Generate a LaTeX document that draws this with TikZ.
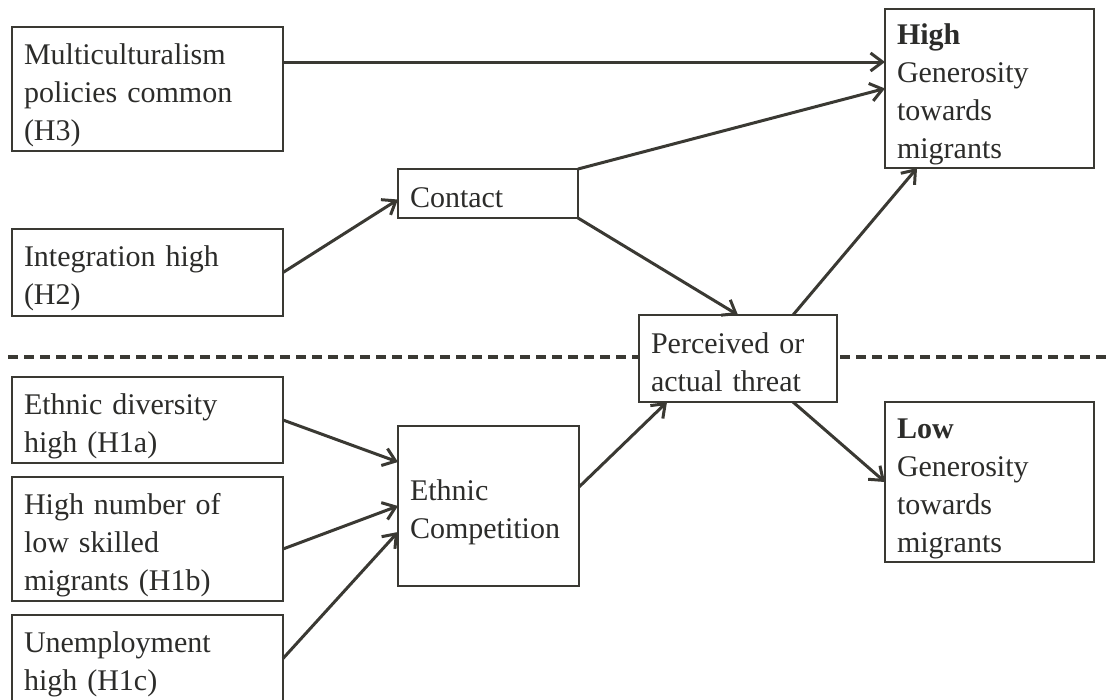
\documentclass[tikz,border=0pt]{standalone}
\usepackage{fontspec}
\setmainfont{Liberation Serif}
\usetikzlibrary{arrows.meta}
\definecolor{ink}{HTML}{3A3933}
\definecolor{txt}{HTML}{2C2C2A}

\begin{document}
\begin{tikzpicture}[x=1pt,y=-1pt,
	box/.style={rectangle, draw=ink, line width=1.7pt, fill=white, align=left,
		inner xsep=12pt, inner ysep=0pt, outer sep=0pt, text=txt,
		font=\fontsize{30}{38}\selectfont,
		execute at begin node={\rule{0pt}{33pt}}, execute at end node={\rule[-6pt]{0pt}{0pt}}},
	arr/.style={draw=ink, line width=3pt, -{Straight Barb[length=12pt,width=18pt]}}]

	\useasboundingbox (0,0) rectangle (1107,699);

	\coordinate (sepL) at (8,357);
	\coordinate (sepR) at (1107,357);
	\draw[ink, line width=3.2pt, dash pattern=on 10pt off 6pt] (sepL) -- (sepR);

	\node (multi) [box, text width=247pt, minimum height=124pt] at (147.5, 89) {Multiculturalism\\policies common\\(H3)};
	\node (integ) [box, text width=247pt, minimum height=87pt] at (147.5, 272.5) {Integration high\\(H2)};
	\node (contact) [box, text width=156pt, minimum height=49pt] at (488, 193.5) {Contact};
	\node (threat) [box, text width=174pt, minimum height=87pt] at (738, 358.5) {Perceived or\\actual threat};
	\node (high) [box, text width=185pt, minimum height=159pt] at (989.5, 88.5) {\textbf{High}\\Generosity\\towards\\migrants};
	\node (low) [box, text width=185pt, minimum height=160pt] at (989.5, 482) {\textbf{Low}\\Generosity\\towards\\migrants};
	\node (divers) [box, text width=247pt, minimum height=86pt] at (147.5, 420) {Ethnic diversity\\high (H1a)};
	\node (lowskill) [box, text width=247pt, minimum height=124pt] at (147.5, 539) {High number of\\low skilled\\migrants (H1b)};
	\node (unemp) [box, text width=247pt, minimum height=87pt] at (147.5, 658.5) {Unemployment\\high (H1c)};
	\node (comp) [box, text width=157pt, minimum height=160pt] at (488.5, 506) {Ethnic\\Competition};

	\coordinate (m1) at ([yshift=27pt]multi.east);

	\path
	(m1) edge[arr] (m1 -| high.west)
	(contact.north east) edge[arr] (high.west)
	(integ.east) edge[arr] ([yshift=-6pt]contact.west)
	(contact.south east) edge[arr] (threat.north)
	([xshift=-44pt]threat.north east) edge[arr] ([xshift=32pt]high.south west)
	([xshift=-44pt]threat.south east) edge[arr] (low.west)
	([yshift=19pt]comp.east) edge[arr] ([xshift=28pt]threat.south west)
	(divers.east) edge[arr] ([yshift=44pt]comp.west)
	([yshift=-10pt]lowskill.east) edge[arr] (comp.west)
	(unemp.east) edge[arr] ([yshift=-26pt]comp.west);

\end{tikzpicture}
\end{document}
